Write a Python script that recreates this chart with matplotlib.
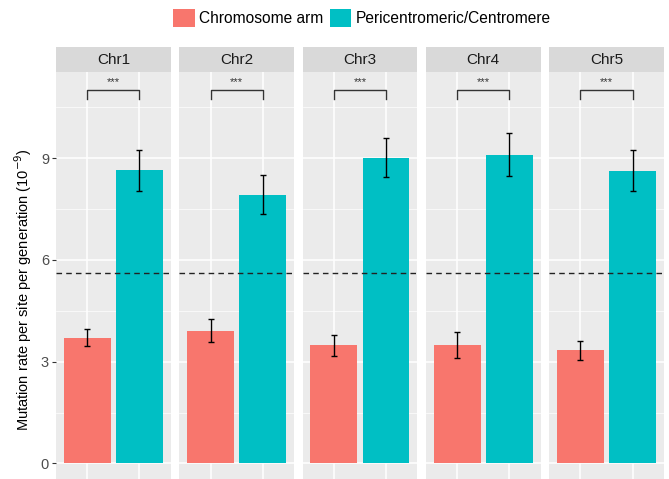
import numpy as np
import matplotlib.pyplot as plt
from matplotlib.patches import Patch

plt.rcParams['font.family'] = ['Liberation Sans', 'DejaVu Sans']

# ---------- Data ----------
chroms = ['Chr1', 'Chr2', 'Chr3', 'Chr4', 'Chr5']
groups = ['Chromosome arm', 'Pericentromeric/Centromere']
arm_rate = [3.70, 3.90, 3.48, 3.48, 3.33]
arm_lo = [3.45, 3.58, 3.18, 3.10, 3.05]
arm_hi = [3.95, 4.25, 3.80, 3.88, 3.60]
cen_rate = [8.65, 7.90, 9.00, 9.08, 8.62]
cen_lo = [8.03, 7.35, 8.45, 8.47, 8.03]
cen_hi = [9.24, 8.50, 9.60, 9.74, 9.23]
genome_mean = 5.62
sig_label = '***'
yticks = [0, 3, 6, 9]

colors = ['#F8766D', '#00BFC4']
W, H = 669, 479

fig = plt.figure(figsize=(W / 100, H / 100), dpi=100)

left, pw, gap = 56, 114.7, 8.6
top_panel, strip_h = 72, 25
ylim = (-0.46, 11.54)

for i, chrom in enumerate(chroms):
    x0 = left + i * (pw + gap)
    ax = fig.add_axes([x0 / W, 0, pw / W, (H - top_panel) / H])
    ax.set_facecolor('#EBEBEB')
    for s in ax.spines.values():
        s.set_visible(False)

    # grid
    for y in [1.5, 4.5, 7.5, 10.5]:
        ax.axhline(y, color='white', lw=0.5, zorder=0)
    for y in yticks:
        ax.axhline(y, color='white', lw=1.1, zorder=0)
    for x in [1, 2]:
        ax.axvline(x, color='white', lw=1.1, zorder=0)

    vals = [arm_rate[i], cen_rate[i]]
    lo = [arm_lo[i], cen_lo[i]]
    hi = [arm_hi[i], cen_hi[i]]
    xs = np.array([1, 2])
    ax.bar(xs, vals, width=0.9, color=colors, zorder=2)
    err = [np.array(vals) - np.array(lo), np.array(hi) - np.array(vals)]
    ax.errorbar(xs, vals, yerr=err, fmt='none', ecolor='black', elinewidth=1,
                capsize=2.5, capthick=1, zorder=3)

    ax.axhline(genome_mean, color='#222222', lw=1, ls=(0, (4, 3)), zorder=4)

    # significance bracket
    ax.plot([1, 1, 2, 2], [10.75, 11.0, 11.0, 10.75], color='#333333', lw=1, zorder=4)
    ax.text(1.5, 11.1, sig_label, ha='center', va='bottom', fontsize=8, color='#333333')

    ax.set_xlim(0.4, 2.6)
    ax.set_ylim(*ylim)
    ax.set_xticks([])
    ax.set_yticks(yticks)
    if i == 0:
        ax.tick_params(axis='y', length=3, color='#333333', labelcolor='#4D4D4D',
                       labelsize=10.5, pad=2)
        ax.set_ylabel('Mutation rate per site per generation (10$^{-9}$)',
                      fontsize=10.5, color='black')
        ax.yaxis.set_label_coords(-0.19, 0.465)
    else:
        ax.tick_params(axis='y', length=0, labelleft=False)

    # strip
    sax = fig.add_axes([x0 / W, (H - top_panel) / H, pw / W, strip_h / H])
    sax.set_facecolor('#D9D9D9')
    sax.set_xticks([])
    sax.set_yticks([])
    for s in sax.spines.values():
        s.set_visible(False)
    sax.text(0.5, 0.5, chrom, ha='center', va='center', fontsize=11,
             color='#1A1A1A', transform=sax.transAxes)

handles = [Patch(facecolor=c, edgecolor='none') for c in colors]
fig.legend(handles, groups, loc='center', bbox_to_anchor=(362 / W, 1 - 18 / H),
           ncol=2, frameon=False, fontsize=11.2, handlelength=1.4, handleheight=1.4,
           handletextpad=0.3, columnspacing=0.4)

fig.savefig('out.png', dpi=100)
